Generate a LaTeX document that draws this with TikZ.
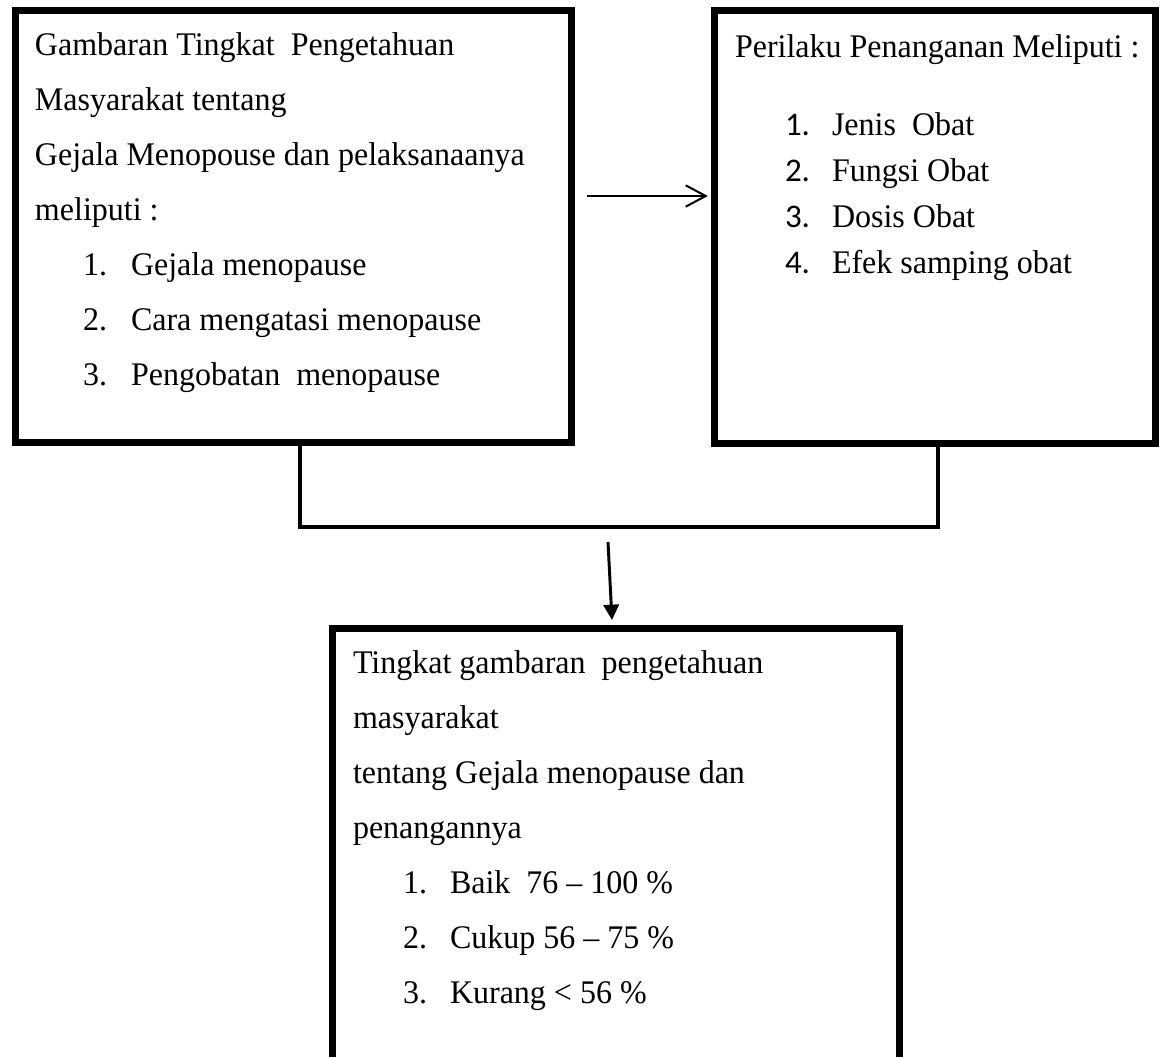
\documentclass[tikz,border=0pt]{standalone}
\usepackage{fontspec}
\setmainfont{Liberation Serif}[FakeStretch=0.97]
\newfontfamily\numfont{Carlito}
\usetikzlibrary{arrows.meta,calc}
\begin{document}
\begin{tikzpicture}[x=0.75pt,y=-0.75pt,
  boxstyle/.style={draw=black,line width=5.25pt,inner sep=0pt,outer sep=0pt,rectangle},
  txt/.style={anchor=base west,inner sep=0pt,outer sep=0pt,font=\fontsize{24.75pt}{30pt}\selectfont},
  link/.style={draw=black,line width=3pt},
  harrow/.style={draw=black,line width=1.5pt,-{Straight Barb[length=15pt,width=16pt,line width=1.5pt]}},
  darrow/.style={draw=black,line width=2.2pt,-{Triangle[length=11.5pt,width=11.5pt]}}]
\useasboundingbox (0,0) rectangle (1161,1057);
\clip (0,0) rectangle (1161,1057);
\fill[white] (0,0) rectangle (1161,1057);
% boxes
\node[boxstyle,minimum width=417.375pt,minimum height=324pt] (L) at (293.25,226) {};
\node[boxstyle,minimum width=330.75pt,minimum height=324.75pt] (R) at (935,226.5) {};
\node[boxstyle,minimum width=425.25pt,minimum height=369pt] (B) at (615.5,874) {};
% left text
\node[txt] (l1) at (35,55) {Gambaran Tingkat~ Pengetahuan};
\node[txt] (l2) at (35,110) {Masyarakat tentang};
\node[txt] (l3) at (35,165) {Gejala Menopouse dan pelaksanaanya};
\node[txt] (l4) at (35,220) {meliputi :};
\node[txt] (ln1) at (83,275) {1.};
\node[txt] (li1) at (131,275) {Gejala menopause};
\node[txt] (ln2) at (83,330) {2.};
\node[txt] (li2) at (131,330) {Cara mengatasi menopause};
\node[txt] (ln3) at (83,385) {3.};
\node[txt] (li3) at (131,385) {Pengobatan~ menopause};
% right text
\node[txt] (r1) at (735,57) {Perilaku Penanganan Meliputi :};
\node[txt,font=\fontsize{24.75pt}{30pt}\numfont] (rn1) at (785,135) {1.};
\node[txt] (ri1) at (832,135) {Jenis~ Obat};
\node[txt,font=\fontsize{24.75pt}{30pt}\numfont] (rn2) at (785,181) {2.};
\node[txt] (ri2) at (832,181) {Fungsi Obat};
\node[txt,font=\fontsize{24.75pt}{30pt}\numfont] (rn3) at (785,227) {3.};
\node[txt] (ri3) at (832,227) {Dosis Obat};
\node[txt,font=\fontsize{24.75pt}{30pt}\numfont] (rn4) at (785,273) {4.};
\node[txt] (ri4) at (832,273) {Efek samping obat};
% bottom text
\node[txt] (b1) at (353,673) {Tingkat gambaran~ pengetahuan};
\node[txt] (b2) at (353,728) {masyarakat};
\node[txt] (b3) at (353,783) {tentang Gejala menopause dan};
\node[txt] (b4) at (353,838) {penangannya};
\node[txt] (bn1) at (403,893) {1.};
\node[txt] (bi1) at (450,893) {Baik~ 76 – 100 \%};
\node[txt] (bn2) at (403,948) {2.};
\node[txt] (bi2) at (450,948) {Cukup 56 – 75 \%};
\node[txt] (bn3) at (403,1003) {3.};
\node[txt] (bi3) at (450,1003) {Kurang < 56 \%};
% connectors
\coordinate (ha) at (0,196);
\draw[harrow,shorten <=11.5pt,shorten >=5pt] (L.east |- ha) -- (R.west |- ha);
\coordinate (j1) at (300,527);
\coordinate (j2) at (938,527);
\draw[link] (L.south -| j1) -- (j1) -- (j2) -- (R.south -| j2);
\coordinate (da) at (608,542);
\draw[darrow] (da) -- ($(B.north)+(-3.5,-8)$);
\end{tikzpicture}
\end{document}
